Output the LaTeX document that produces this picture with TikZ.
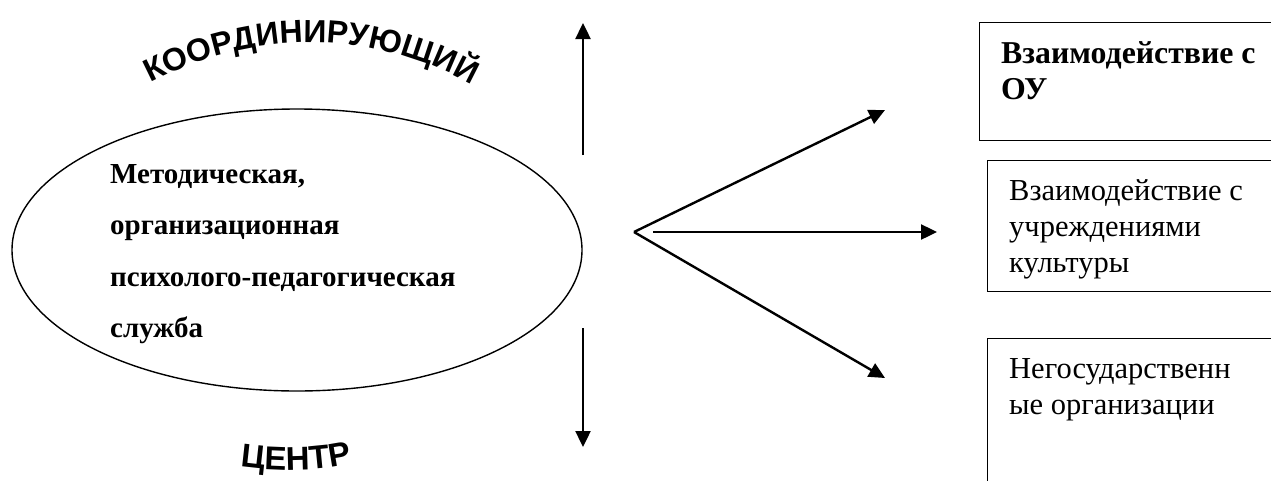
\documentclass[tikz,border=0pt]{standalone}
\usepackage{fontspec}
\setmainfont{Liberation Serif}
\setsansfont{Liberation Sans}
\usetikzlibrary{arrows.meta,decorations.text,shapes.geometric}

\tikzset{
  link/.style={line width=2.4pt, -{Triangle[length=16pt,width=15pt]}},
  partner/.style={draw, line width=1.4pt, anchor=north west, inner sep=0pt},
  boxtext/.style={anchor=north west, inner sep=0pt, align=left,
    font=\fontsize{30.5}{36}\selectfont},
  arctext/.style={decorate, decoration={text along path, text align=center,
    text format delimiters={|}{|}}}
}

\begin{document}
\begin{tikzpicture}[x=1pt, y=-1pt]
  \useasboundingbox (0,0) rectangle (1271,480);

  % the service
  \node[draw, ellipse, line width=1.4pt, minimum width=570pt, minimum height=282pt,
    inner sep=0pt] (serv) at (297,250) {};
  \node[anchor=north west, inner sep=0pt, align=left,
    font=\bfseries\fontsize{29}{51.5}\selectfont] (servtext) at (110,164)
    {Методическая,\\организационная\\психолого-педагогическая\\служба};

  % curved headings
  \path[arctext, decoration={text={|\sffamily\bfseries\fontsize{32}{32}\selectfont|КООРДИНИРУЮЩИЙ}}]
    (144,86) .. controls (251,28) and (374,28) .. (478,88);
  \path[arctext, decoration={text={|\sffamily\bfseries\fontsize{33}{33}\selectfont|ЦЕНТР}}]
    (236,466) .. controls (275,472) and (315,472) .. (356,463);

  % up and down
  \coordinate (upfrom) at (583,155);
  \coordinate (upto) at (583,23);
  \coordinate (downfrom) at (583,328);
  \coordinate (downto) at (583,447);
  \draw[link] (upfrom) -- (upto);
  \draw[link] (downfrom) -- (downto);

  % partners
  \node[partner, minimum width=310pt, minimum height=118pt] (ou) at (979,22) {};
  \node[boxtext, font=\bfseries\fontsize{31.8}{36}\selectfont] (outext) at ([shift={(22,19)}]ou.north west)
    {Взаимодействие с\\ОУ};
  \node[partner, minimum width=300pt, minimum height=131pt] (cult) at (987,160) {};
  \node[boxtext] (culttext) at ([shift={(22,19)}]cult.north west)
    {Взаимодействие с\\учреждениями\\культуры};
  \node[partner, minimum width=300pt, minimum height=160pt] (ngo) at (987,338) {};
  \node[boxtext] (ngotext) at ([shift={(22,20)}]ngo.north west)
    {Негосударственн\\ые организации};

  % fan of arrows
  \coordinate (fan) at (634,232);
  \coordinate (fanmid) at (653,232);
  \coordinate (toou) at (885,110);
  \coordinate (tocult) at (937,232);
  \coordinate (tongo) at (885,378);
  \draw[link] (fan) -- (toou);
  \draw[link] (fanmid) -- (tocult);
  \draw[link] (fan) -- (tongo);
\end{tikzpicture}
\end{document}
